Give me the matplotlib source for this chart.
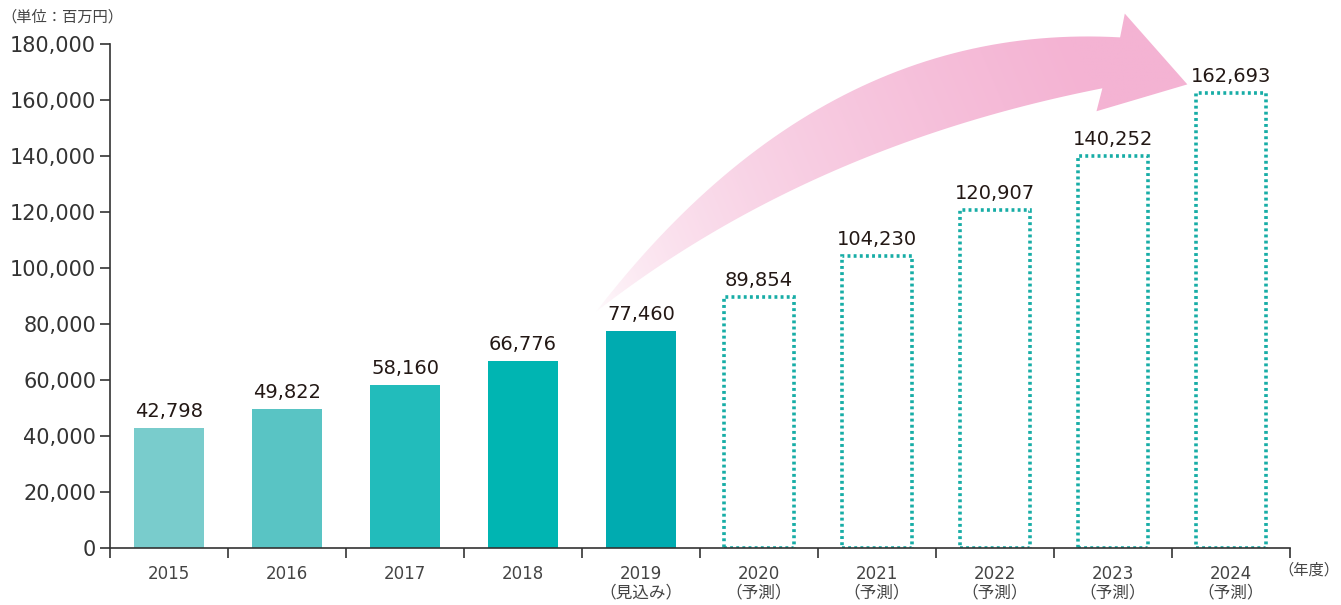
import numpy as np
import matplotlib
matplotlib.use("Agg")
import matplotlib.pyplot as plt
from matplotlib.path import Path
from matplotlib.patches import PathPatch
from matplotlib.colors import to_rgb

plt.rcParams['font.family'] = ['DejaVu Sans', 'Noto Sans CJK JP']

# data (単位: 百万円)
years = ['2015', '2016', '2017', '2018', '2019', '2020', '2021', '2022', '2023', '2024']
notes = ['', '', '', '', '（見込み）', '（予測）', '（予測）', '（予測）', '（予測）', '（予測）']
values = [42798, 49822, 58160, 66776, 77460, 89854, 104230, 120907, 140252, 162693]
n_actual = 5
actual_colors = ['#79CCCC', '#59C4C4', '#22BCBB', '#00B5B2', '#00ABB0']
forecast_color = '#17ADA6'

fig = plt.figure(figsize=(13.41, 6.05), dpi=100)
ax = fig.add_axes([110 / 1341, 57 / 605, 1180 / 1341, 540 / 605])

x = np.arange(len(years))
w = 0.59

# actual bars
ax.bar(x[:n_actual], values[:n_actual], width=w, color=actual_colors, zorder=2)
# forecast bars (dotted outline)
ax.bar(x[n_actual:], values[n_actual:], width=w, facecolor='none',
       edgecolor=forecast_color, linewidth=2.6, linestyle=(0, (0.8, 0.9)), zorder=2)

for xi, v in zip(x, values):
    ax.text(xi, v + 2500, f'{v:,}', ha='center', va='bottom', fontsize=14,
            color='#231815', zorder=4)

# curved gradient arrow (decoration)
def qbez(p0, c, p1, n=60):
    t = np.linspace(0, 1, n)[:, None]
    return (1 - t) ** 2 * np.array(p0) + 2 * (1 - t) * t * np.array(c) + t ** 2 * np.array(p1)

start = (3.62, 84500)
upper = qbez(start, (5.52, 188500), (8.06, 182500))
lower = qbez((7.91, 164300), (5.42, 143600), start)
head = np.array([(8.10, 191000), (8.63, 165700), (7.86, 156100)])
verts = np.vstack([upper, head, lower])
codes = [Path.MOVETO] + [Path.LINETO] * (len(verts) - 2) + [Path.CLOSEPOLY]
arrow = PathPatch(Path(verts, codes), facecolor='none', edgecolor='none')
ax.add_patch(arrow)

gx = np.linspace(3.5, 8.8, 300)
gy = np.linspace(80000, 193000, 200)
GX, GY = np.meshgrid(gx, gy)
t = np.clip((GX - 3.6) / 4.0 * 0.8 + (GY - 85000) / 100000 * 0.2, 0, 1) ** 0.55
c0 = np.array(to_rgb('#FFFFFF'))
c1 = np.array(to_rgb('#F4B3D3'))
img = c0 + (c1 - c0) * t[..., None]
im = ax.imshow(img, extent=(gx[0], gx[-1], gy[0], gy[-1]), origin='lower',
               aspect='auto', zorder=1, interpolation='bilinear')
im.set_clip_path(arrow)

ax.set_xlim(-0.5, 9.5)
ax.set_ylim(0, 193000)

ax.spines['top'].set_visible(False)
ax.spines['right'].set_visible(False)
ax.spines['left'].set_bounds(0, 180000)
for s in ('left', 'bottom'):
    ax.spines[s].set_color('#333333')
    ax.spines[s].set_linewidth(1.2)

yt = np.arange(0, 180001, 20000)
ax.set_yticks(yt)
ax.set_yticklabels([f'{v:,}' for v in yt], fontsize=15, color='#333333')
ax.tick_params(axis='y', direction='out', length=7, width=1.2, color='#333333', pad=3)

ax.set_xticks(x)
ax.set_xticklabels([y + ('\n' + nt if nt else '') for y, nt in zip(years, notes)],
                   fontsize=12, color='#444444', linespacing=1.05, va='top')
ax.set_xticks(np.arange(-0.5, 10, 1), minor=True)
ax.tick_params(axis='x', which='major', length=0, pad=12)
ax.tick_params(axis='x', which='minor', direction='out', length=7, width=1.2, color='#333333')

fig.text(0.001, 1 - 17 / 605, '（単位：百万円）', fontsize=11, color='#444444',
         va='center', ha='left')
ax.text(9.92, -8000, '（年度）', fontsize=11, color='#444444', va='center', ha='right',
        clip_on=False)

fig.savefig('out.png', dpi=100)
